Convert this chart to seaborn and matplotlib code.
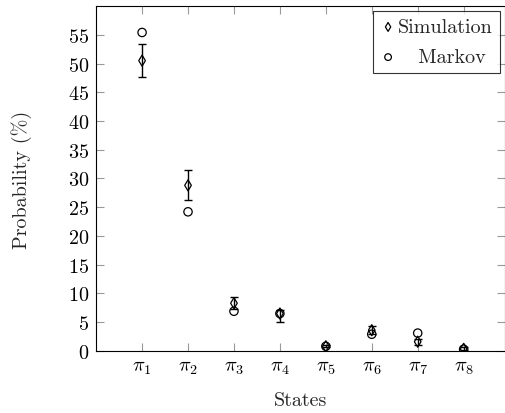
import matplotlib
matplotlib.use('Agg')
import matplotlib.pyplot as plt
import numpy as np
import pandas as pd
import seaborn as sns

# data
states = [r'$\pi_1$', r'$\pi_2$', r'$\pi_3$', r'$\pi_4$',
          r'$\pi_5$', r'$\pi_6$', r'$\pi_7$', r'$\pi_8$']
positions = [1, 2, 3, 4, 5, 6, 7, 8]
sim_mean = [50.5, 28.8, 8.3, 6.5, 0.8, 3.6, 1.6, 0.35]
sim_low = [47.6, 26.2, 7.3, 5.1, 0.6, 3.0, 1.1, 0.2]
sim_high = [53.4, 31.4, 9.3, 7.1, 1.1, 4.3, 2.1, 0.6]
markov = [55.4, 24.2, 6.9, 6.5, 0.8, 2.9, 3.1, 0.3]

yticks = [0, 5, 10, 15, 20, 25, 30, 35, 40, 45, 50, 55]

df = pd.DataFrame({'pos': positions, 'sim': sim_mean, 'markov': markov})
err = np.array([np.subtract(sim_mean, sim_low), np.subtract(sim_high, sim_mean)])

sns.set_style('ticks')
plt.rcParams['font.family'] = ['cmr10', 'DejaVu Serif']
plt.rcParams['mathtext.fontset'] = 'cm'
plt.rcParams['axes.formatter.use_mathtext'] = True

fs = 14.5
fig = plt.figure(figsize=(5.06, 4.14), dpi=100)
ax = fig.add_axes([0.19, 0.15, 0.808, 0.833])

ax.errorbar(df['pos'], df['sim'], yerr=err, fmt='none', ecolor='black',
            elinewidth=1.0, capsize=3, capthick=1.0, zorder=2)
sns.scatterplot(data=df, x='pos', y='sim', marker='d', s=32, facecolor='none',
                edgecolor='black', linewidth=0.9, ax=ax, label='Simulation', zorder=3)
sns.scatterplot(data=df, x='pos', y='markov', marker='o', s=36, facecolor='none',
                edgecolor='black', linewidth=0.9, ax=ax, label='   Markov', zorder=3)

ax.set_xlim(0, 8.9)
ax.set_ylim(0, 60)
ax.set_xticks(positions)
ax.set_xticklabels(states)
ax.set_yticks(yticks)
ax.tick_params(direction='in', length=6, width=0.8, color='0.6', labelsize=fs,
               top=True, right=True, labelcolor='black', pad=5)
for s in ax.spines.values():
    s.set_color('black')
    s.set_linewidth(0.8)

ax.set_xlabel('States', fontsize=fs, labelpad=11)
ax.set_ylabel('Probability (%)', fontsize=fs, labelpad=26)

leg = ax.legend(loc='upper right', fontsize=fs, frameon=True, fancybox=False,
                edgecolor='black', handletextpad=0.1, handlelength=0.8,
                borderpad=0.35, labelspacing=0.6, borderaxespad=0.25,
                markerscale=0.8)
leg.get_frame().set_linewidth(0.8)

fig.savefig('out.png', dpi=100)
